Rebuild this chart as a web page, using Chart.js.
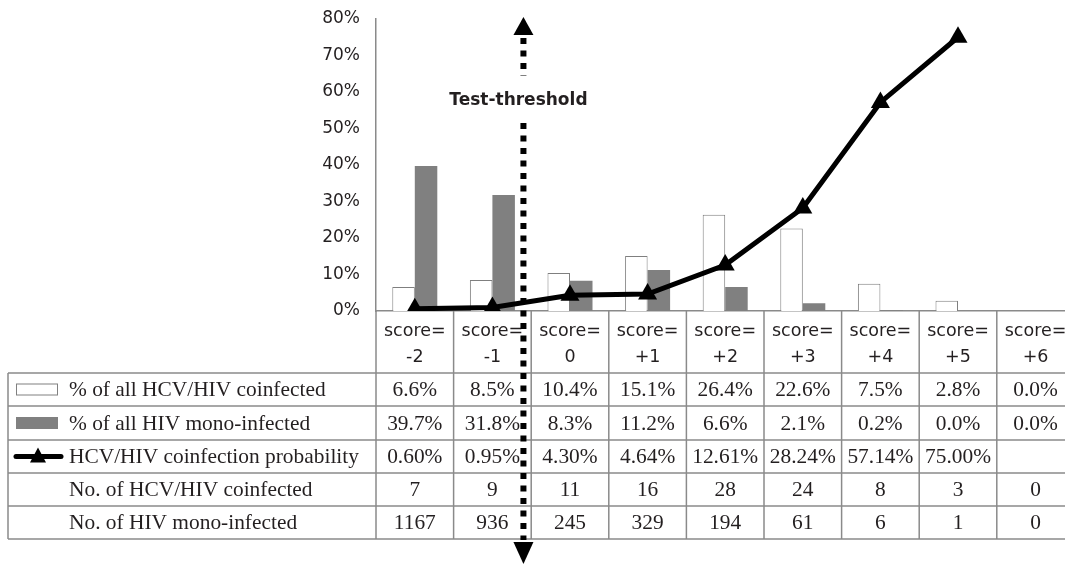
<!DOCTYPE html>
<html>
<head>
<meta charset="utf-8">
<script src="https://cdn.jsdelivr.net/npm/chart.js@4"></script>
<style>
  html, body { margin: 0; padding: 0; background: #fff; overflow: hidden; }
  #wrap { width: 1065px; height: 565px; }
</style>
</head>
<body>
<div id="wrap"><canvas id="chart" width="1065" height="565"></canvas></div>
<script>
// Data
const scores = ['-2', '-1', '0', '+1', '+2', '+3', '+4', '+5', '+6'];
const coinfectedPct = [6.6, 8.5, 10.4, 15.1, 26.4, 22.6, 7.5, 2.8, 0.0];
const monoPct = [39.7, 31.8, 8.3, 11.2, 6.6, 2.1, 0.2, 0.0, 0.0];
const coinfectionProb = [0.60, 0.95, 4.30, 4.64, 12.61, 28.24, 57.14, 75.00, null];
const coinfectedCount = [7, 9, 11, 16, 28, 24, 8, 3, 0];
const monoCount = [1167, 936, 245, 329, 194, 61, 6, 1, 0];
const yTicks = [0, 10, 20, 30, 40, 50, 60, 70, 80];

const rowLabels = [
    '% of all HCV/HIV coinfected',
    '% of all HIV mono-infected',
    'HCV/HIV coinfection probability',
    'No. of HCV/HIV coinfected',
    'No. of HIV mono-infected'
];

const GRID = '#8a8a8a';
const TEXT = '#231f20';
const BAR_GRAY = '#808080';
const COLUMN_WIDTH = 77.6;

// The last column runs past the right edge of the picture,
// so stretch the x scale after layout.
const widenPlugin = {
    id: 'widenPlugin',
    afterLayout(chart) {
        const x = chart.scales.x;
        const w = COLUMN_WIDTH * scores.length;
        x.right = x.left + w;
        x.width = w;
        chart.chartArea.right = x.right;
        chart.chartArea.width = w;
        x.configure();
    }
};

// Draws the data table under the axis plus the threshold arrow
const tablePlugin = {
    id: 'tablePlugin',
    afterDraw(chart) {
        const ctx = chart.ctx;
        const x = chart.scales.x;
        const area = chart.chartArea;
        const step = x.getPixelForValue(1) - x.getPixelForValue(0);
        const rowTops = [373, 406, 440, 473, 506, 539];
        const tableLeft = 8;
        const right = chart.width;

        ctx.save();

        // score header labels
        ctx.fillStyle = TEXT;
        ctx.font = '17.5px "DejaVu Sans", Verdana, sans-serif';
        ctx.textAlign = 'center';
        ctx.textBaseline = 'middle';
        scores.forEach((s, i) => {
            const cx = x.getPixelForValue(i);
            ctx.fillText('score=', cx, 331);
            ctx.fillText(s, cx, 357);
        });

        // grid lines
        ctx.strokeStyle = GRID;
        ctx.lineWidth = 1.5;
        rowTops.forEach(y => {
            ctx.beginPath();
            ctx.moveTo(tableLeft, y);
            ctx.lineTo(right, y);
            ctx.stroke();
        });
        ctx.beginPath();
        ctx.moveTo(tableLeft, rowTops[0]);
        ctx.lineTo(tableLeft, rowTops[rowTops.length - 1]);
        ctx.stroke();
        for (let i = 0; i <= scores.length; i++) {
            const bx = x.getPixelForValue(i) - step / 2;
            ctx.beginPath();
            ctx.moveTo(bx, area.bottom);
            ctx.lineTo(bx, rowTops[rowTops.length - 1]);
            ctx.stroke();
        }

        // row labels and legend keys
        ctx.font = '21.4px "Liberation Serif", "Times New Roman", serif';
        ctx.textAlign = 'left';
        rowLabels.forEach((label, r) => {
            const cy = (rowTops[r] + rowTops[r + 1]) / 2 + 1;
            ctx.fillStyle = TEXT;
            ctx.fillText(label, 69, cy);
        });
        let cy = (rowTops[0] + rowTops[1]) / 2;
        ctx.fillStyle = '#fff';
        ctx.strokeStyle = BAR_GRAY;
        ctx.lineWidth = 1;
        ctx.fillRect(16.5, cy - 5.5, 41, 11);
        ctx.strokeRect(16.5, cy - 5.5, 41, 11);
        cy = (rowTops[1] + rowTops[2]) / 2;
        ctx.fillStyle = BAR_GRAY;
        ctx.fillRect(16, cy - 6, 42, 12);
        cy = (rowTops[2] + rowTops[3]) / 2;
        ctx.strokeStyle = '#000';
        ctx.lineWidth = 5;
        ctx.lineCap = 'round';
        ctx.beginPath();
        ctx.moveTo(16, cy);
        ctx.lineTo(61, cy);
        ctx.stroke();
        ctx.fillStyle = '#000';
        ctx.beginPath();
        ctx.moveTo(38, cy - 9);
        ctx.lineTo(46, cy + 6);
        ctx.lineTo(30, cy + 6);
        ctx.closePath();
        ctx.fill();

        // cell values
        const rows = [
            coinfectedPct.map(v => v.toFixed(1) + '%'),
            monoPct.map(v => v.toFixed(1) + '%'),
            coinfectionProb.map(v => v === null ? '' : v.toFixed(2) + '%'),
            coinfectedCount.map(String),
            monoCount.map(String)
        ];
        ctx.fillStyle = TEXT;
        ctx.textAlign = 'center';
        rows.forEach((vals, r) => {
            const yy = (rowTops[r] + rowTops[r + 1]) / 2 + 1;
            vals.forEach((v, i) => ctx.fillText(v, x.getPixelForValue(i), yy));
        });

        // test-threshold arrow between score -1 and 0
        const tx = x.getPixelForValue(1) + 0.4 * step;
        ctx.strokeStyle = '#000';
        ctx.fillStyle = '#000';
        ctx.lineWidth = 6;
        ctx.lineCap = 'butt';
        ctx.setLineDash([6, 6.5]);
        ctx.beginPath();
        ctx.moveTo(tx, 38);
        ctx.lineTo(tx, 76);
        ctx.stroke();
        ctx.beginPath();
        ctx.moveTo(tx, 123);
        ctx.lineTo(tx, 540);
        ctx.stroke();
        ctx.setLineDash([]);
        ctx.beginPath();
        ctx.moveTo(tx, 17);
        ctx.lineTo(tx + 10, 35);
        ctx.lineTo(tx - 10, 35);
        ctx.closePath();
        ctx.fill();
        ctx.beginPath();
        ctx.moveTo(tx, 564);
        ctx.lineTo(tx + 10, 542);
        ctx.lineTo(tx - 10, 542);
        ctx.closePath();
        ctx.fill();

        ctx.fillStyle = TEXT;
        ctx.font = 'bold 17px "DejaVu Sans", Verdana, sans-serif';
        ctx.textAlign = 'center';
        ctx.fillText('Test-threshold', tx - 5, 101);

        ctx.restore();
    }
};

new Chart(document.getElementById('chart'), {
    type: 'bar',
    data: {
        labels: scores,
        datasets: [
            {
                type: 'line',
                label: 'HCV/HIV coinfection probability',
                data: coinfectionProb,
                borderColor: '#000',
                backgroundColor: '#000',
                borderWidth: 5,
                pointStyle: 'triangle',
                pointRadius: 11,
                pointBackgroundColor: '#000',
                pointBorderColor: '#000',
                pointBorderWidth: 0,
                tension: 0,
                order: 0
            },
            {
                label: '% of all HCV/HIV coinfected',
                data: coinfectedPct,
                backgroundColor: '#fff',
                borderColor: '#7f7f7f',
                borderWidth: 1,
                order: 1
            },
            {
                label: '% of all HIV mono-infected',
                data: monoPct,
                backgroundColor: BAR_GRAY,
                borderColor: BAR_GRAY,
                borderWidth: 0,
                order: 1
            }
        ]
    },
    options: {
        responsive: false,
        animation: false,
        devicePixelRatio: 1,
        datasets: {
            bar: {
                categoryPercentage: 0.58,
                barPercentage: 1.0
            }
        },
        layout: {
            padding: { left: 310, top: 19, right: 0, bottom: 254 }
        },
        plugins: {
            legend: { display: false },
            tooltip: { enabled: false }
        },
        scales: {
            x: {
                offset: true,
                grid: { display: false },
                ticks: { display: false },
                border: { display: true, color: GRID, width: 1.5 },
                afterFit(scale) { scale.height = 0; }
            },
            y: {
                min: 0,
                max: 80,
                afterBuildTicks(scale) {
                    scale.ticks = yTicks.map(v => ({ value: v }));
                },
                grid: { display: false },
                border: { display: true, color: GRID, width: 1.5 },
                ticks: {
                    padding: 8,
                    color: TEXT,
                    font: { family: '"DejaVu Sans", Verdana, sans-serif', size: 17 },
                    callback: v => v + '%'
                },
                afterFit(scale) { scale.width = 66; }
            }
        }
    },
    plugins: [widenPlugin, tablePlugin]
});
</script>
</body>
</html>
